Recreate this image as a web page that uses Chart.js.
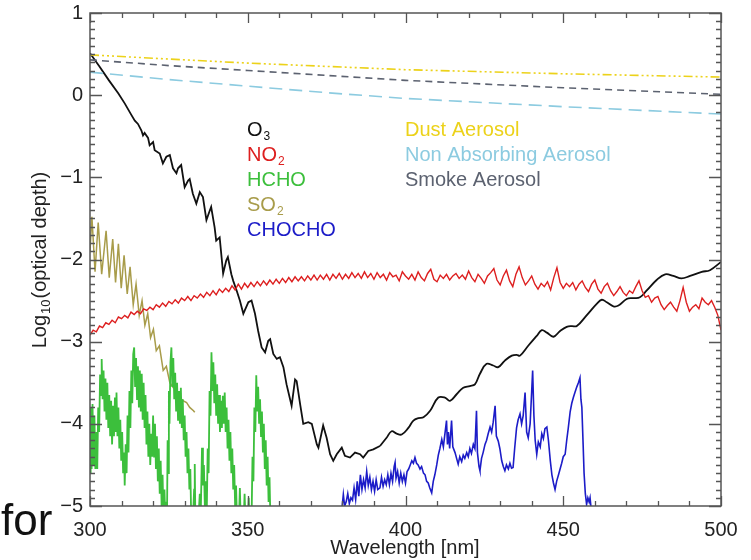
<!DOCTYPE html>
<html>
<head>
<meta charset="utf-8">
<script src="https://cdn.jsdelivr.net/npm/chart.js@4.4.1/dist/chart.umd.min.js"></script>
<style>
  html, body { margin: 0; padding: 0; background: #fff; }
  #wrap { width: 751px; height: 560px; }
</style>
</head>
<body>
<div id="wrap"><canvas id="chart" width="751" height="560"></canvas></div>
<script>
// tick labels
const xTicks = [300, 350, 400, 450, 500];
const yTicks = [1, 0, -1, -2, -3, -4, -5];

// legend labels [main, subscript]
const gasLabels = [['O', '3'], ['NO', '2'], ['HCHO', ''], ['SO', '2'], ['CHOCHO', '']];
const aerosolLabels = ['Dust Aerosol', 'Non Absorbing Aerosol', 'Smoke Aerosol'];

// series: [wavelength nm, log10 optical depth]
const dust = [[300, 0.49], [325, 0.44], [350, 0.39], [375, 0.35], [400, 0.31], [450, 0.26], [500, 0.22]];
const nonAbsorbing = [[300, 0.28], [325, 0.19], [350, 0.11], [375, 0.03], [400, -0.04], [450, -0.14], [500, -0.23]];
const smoke = [[300, 0.43], [325, 0.36], [350, 0.30], [375, 0.24], [400, 0.18], [450, 0.09], [500, 0.01]];

const o3 = [[300, 0.51], [303, 0.35], [306, 0.18], [309, 0.02], [311, -0.10], [313.1, -0.24], [314.2, -0.31],
  [315.2, -0.35], [316.3, -0.43], [316.8, -0.49], [317.3, -0.46], [318.4, -0.52], [318.9, -0.61], [320.0, -0.57],
  [320.5, -0.67], [322.1, -0.71], [323.1, -0.83], [324.2, -0.75], [325.3, -0.73], [326.3, -0.89], [327.4, -0.95],
  [327.9, -0.89], [328.9, -0.85], [330.0, -1.12], [331.1, -1.04], [331.6, -1.02], [332.6, -1.20], [333.7, -1.32],
  [334.8, -1.18], [335.8, -1.24], [336.9, -1.52], [338.0, -1.40], [338.4, -1.36], [339.5, -1.61], [340.0, -1.77],
  [341.1, -1.73], [342.2, -2.17], [343.2, -2.01], [343.7, -1.97], [344.8, -2.18], [345.4, -2.26], [346.5, -2.38],
  [347.5, -2.50], [348.6, -2.66], [350.2, -2.52], [351.2, -2.50], [352.3, -2.66], [353.3, -2.87], [354.4, -3.07],
  [355.5, -3.13], [356.5, -2.99], [357.1, -2.97], [358.1, -3.15], [359.2, -3.21], [360.2, -3.19], [361.3, -3.31],
  [362.3, -3.52], [363.9, -3.78], [365.0, -3.46], [365.5, -3.48], [366.6, -3.76], [367.6, -4.00], [369.2, -3.98],
  [370.3, -4.00], [371.9, -4.25], [372.4, -4.29], [373.9, -4.02], [375.0, -4.17], [376.1, -4.37], [377.1, -4.45],
  [378.2, -4.37], [379.8, -4.29], [380.8, -4.39], [382.4, -4.41], [384.0, -4.35], [385.6, -4.37], [386.6, -4.41],
  [388.2, -4.33], [389.8, -4.31], [391.9, -4.27], [394.0, -4.17], [395.6, -4.09], [397.2, -4.12], [398.8, -4.13],
  [400.9, -4.05], [402.5, -3.96], [404.1, -3.93], [405.7, -3.92], [407.8, -3.84], [410.4, -3.68], [412.5, -3.68],
  [414.1, -3.72], [416.2, -3.64], [418.3, -3.56], [420.4, -3.54], [422.0, -3.52], [423.6, -3.39], [425.7, -3.27],
  [427.8, -3.29], [429.4, -3.31], [431.5, -3.23], [433.7, -3.17], [435.2, -3.16], [436.3, -3.17], [438.9, -3.05],
  [441.6, -2.93], [443.2, -2.86], [444.8, -2.89], [446.9, -2.94], [449.0, -2.87], [451.1, -2.82], [452.7, -2.81],
  [454.3, -2.81], [457.4, -2.68], [460.6, -2.54], [462.2, -2.49], [463.8, -2.52], [465.9, -2.57], [467.5, -2.56],
  [470.1, -2.48], [472.2, -2.47], [474.3, -2.46], [476.4, -2.38], [479.6, -2.25], [482.3, -2.18], [484.9, -2.20],
  [487.5, -2.23], [490.2, -2.20], [493.9, -2.15], [496.5, -2.13], [500, -2.03]];

const no2 = [[300, -2.92], [301, -2.86], [302, -2.88], [303, -2.81], [304, -2.83], [305, -2.77], [306, -2.79],
  [307, -2.74], [308, -2.77], [309, -2.70], [310, -2.72], [311, -2.68], [312, -2.71], [313, -2.64], [314, -2.67],
  [315, -2.63], [316, -2.66], [317, -2.60], [318, -2.62], [319, -2.58], [320, -2.61], [321, -2.55], [322, -2.58],
  [323, -2.53], [324, -2.57], [325, -2.51], [326, -2.54], [327, -2.49], [328, -2.53], [329, -2.47], [330, -2.50],
  [331, -2.45], [332, -2.50], [333, -2.44], [334, -2.47], [335, -2.42], [336, -2.46], [337, -2.40], [338, -2.44],
  [339, -2.38], [340, -2.43], [341, -2.36], [342, -2.40], [343, -2.35], [344, -2.39], [345, -2.32], [346, -2.37],
  [347, -2.30], [348, -2.36], [349, -2.29], [350, -2.34], [351, -2.28], [352, -2.33], [353, -2.27], [354, -2.32],
  [355, -2.26], [356, -2.31], [357, -2.25], [358, -2.30], [359, -2.24], [360, -2.29], [361, -2.23], [362, -2.28],
  [363, -2.22], [364, -2.27], [365, -2.21], [366, -2.26], [367, -2.21], [368, -2.26], [369, -2.20], [370, -2.25],
  [371, -2.19], [372, -2.25], [373, -2.19], [374, -2.24], [375, -2.18], [376, -2.25], [377, -2.18], [378, -2.23],
  [379, -2.17], [380, -2.24], [381, -2.18], [382, -2.23], [383, -2.16], [384, -2.22], [385, -2.17], [386, -2.23],
  [387, -2.15], [388, -2.22], [389, -2.17], [390, -2.24], [391, -2.16], [392, -2.22], [393, -2.18], [394, -2.25],
  [395, -2.16], [396, -2.21], [397, -2.19], [398, -2.26], [399, -2.15], [400, -2.20], [401, -2.24], [402, -2.18],
  [403, -2.25], [404, -2.15], [405, -2.22], [406, -2.26], [407, -2.17], [408, -2.12], [409, -2.24], [410, -2.27],
  [411, -2.19], [412, -2.23], [413, -2.18], [414, -2.25], [415, -2.20], [416, -2.17], [417, -2.23], [418, -2.19],
  [419, -2.24], [420, -2.14], [421, -2.22], [422, -2.27], [423, -2.18], [424, -2.23], [425, -2.29], [426, -2.20],
  [427, -2.16], [428, -2.11], [429, -2.25], [430, -2.31], [431, -2.20], [432, -2.13], [433, -2.26], [434, -2.33],
  [435, -2.18], [436, -2.09], [437, -2.22], [438, -2.31], [439, -2.26], [440, -2.20], [441, -2.30], [442, -2.36],
  [443, -2.29], [444, -2.33], [445, -2.27], [446, -2.37], [447, -2.22], [448, -2.10], [449, -2.28], [450, -2.35],
  [451, -2.29], [452, -2.33], [453, -2.28], [454, -2.37], [455, -2.30], [456, -2.26], [457, -2.34], [458, -2.39],
  [459, -2.30], [460, -2.25], [461, -2.36], [462, -2.41], [463, -2.33], [464, -2.29], [465, -2.38], [466, -2.44],
  [467, -2.39], [468, -2.33], [469, -2.40], [470, -2.44], [471, -2.38], [472, -2.41], [473, -2.33], [474, -2.26],
  [475, -2.38], [476, -2.46], [477, -2.44], [478, -2.52], [479, -2.47], [480, -2.45], [481, -2.55], [482, -2.61],
  [483, -2.56], [484, -2.52], [485, -2.58], [486, -2.63], [487, -2.50], [488, -2.34], [489, -2.52], [490, -2.63],
  [491, -2.58], [492, -2.55], [493, -2.60], [494, -2.47], [495, -2.52], [496, -2.55], [497, -2.50], [498, -2.58],
  [499, -2.68], [500, -2.86]];

const so2 = [[300.0, -1.90], [300.6, -1.48], [301.6, -2.15], [302.6, -1.55], [303.7, -2.18], [305.1, -1.65],
  [306.1, -2.22], [307.2, -1.75], [308.1, -2.28], [309.0, -1.81], [309.9, -2.35], [310.8, -1.95], [311.8, -2.42],
  [312.7, -2.09], [313.7, -2.55], [314.6, -2.30], [315.6, -2.68], [316.5, -2.50], [317.4, -2.80], [318.3, -2.66],
  [319.2, -2.95], [320.1, -2.85], [321.0, -3.11], [322.0, -3.05], [323.2, -3.35], [324.2, -3.30], [325.3, -3.50],
  [326.4, -3.56], [327.4, -3.58], [328.4, -3.68], [329.6, -3.72], [330.6, -3.74], [331.6, -3.80], [332.8, -3.84],
  [333.2, -3.86]];

const hcho = [[300.0, -4.60], [300.2, -3.80], [300.5, -4.55], [300.8, -3.76], [301.1, -4.50], [301.4, -3.90],
  [301.7, -4.55], [302.0, -4.10], [302.3, -4.55], [302.6, -3.80], [302.9, -4.10], [303.2, -3.40], [303.5, -3.65],
  [303.7, -3.21], [304.0, -3.70], [304.3, -3.35], [304.6, -3.85], [304.9, -3.45], [305.2, -3.95], [305.5, -3.50],
  [305.8, -4.05], [306.1, -3.65], [306.4, -4.15], [306.7, -3.72], [307.0, -4.25], [307.3, -3.78], [307.6, -4.15],
  [307.9, -3.68], [308.2, -4.10], [308.4, -3.62], [308.7, -4.15], [309.0, -3.80], [309.3, -4.30], [309.6, -3.95],
  [309.9, -4.45], [310.2, -4.10], [310.5, -4.60], [310.8, -4.35], [311.0, -4.75], [311.3, -4.25], [311.6, -4.60],
  [311.9, -3.90], [312.2, -4.35], [312.5, -3.60], [312.8, -4.05], [313.1, -3.35], [313.4, -3.75], [313.7, -3.15],
  [314.0, -3.07], [314.3, -3.55], [314.6, -3.20], [314.9, -3.70], [315.2, -3.30], [315.5, -3.80], [315.8, -3.35],
  [316.1, -3.85], [316.4, -3.39], [316.7, -3.95], [317.0, -3.50], [317.3, -4.05], [317.6, -3.65], [317.9, -4.25],
  [318.2, -3.85], [318.5, -4.40], [318.8, -4.00], [319.1, -4.50], [319.4, -4.12], [319.7, -4.40], [320.0, -3.90],
  [320.3, -4.40], [320.6, -4.00], [320.9, -4.55], [321.2, -4.15], [321.5, -4.70], [321.8, -4.30], [322.1, -4.85],
  [322.4, -4.45], [322.7, -5.00], [323.0, -4.62], [323.3, -5.15], [323.6, -4.80], [323.9, -5.20], [324.2, -4.95],
  [324.4, -5.20], [324.6, -4.20], [324.8, -4.60], [325.0, -3.60], [325.2, -4.00], [325.5, -3.25], [325.8, -3.07],
  [326.1, -3.55], [326.4, -3.20], [326.7, -3.70], [327.0, -3.38], [327.3, -3.85], [327.6, -3.50], [327.9, -3.95],
  [328.2, -3.60], [328.5, -4.00], [328.8, -3.56], [329.1, -4.05], [329.4, -3.70], [329.7, -4.20], [330.0, -3.90],
  [330.3, -4.40], [330.6, -4.10], [330.9, -4.60], [331.2, -4.30], [331.5, -4.80], [331.8, -4.55], [332.1, -5.20],
  [332.6, -5.20], [333.0, -4.80], [333.2, -4.49], [333.4, -5.20], [334.3, -5.20], [334.8, -4.85], [335.1, -5.10],
  [335.5, -4.29], [335.8, -4.75], [336.1, -4.50], [336.4, -5.00], [336.7, -4.70], [337.0, -5.10], [337.3, -4.30],
  [337.6, -4.60], [337.9, -3.60], [338.2, -3.90], [338.5, -3.13], [338.8, -3.60], [339.1, -3.25], [339.4, -3.75],
  [339.7, -3.40], [340.0, -3.90], [340.3, -3.52], [340.6, -4.00], [340.9, -3.65], [341.2, -4.10], [341.5, -3.72],
  [341.8, -4.05], [342.1, -3.66], [342.4, -4.00], [342.7, -3.62], [343.0, -4.10], [343.3, -3.80], [343.6, -4.30],
  [343.9, -3.95], [344.2, -4.45], [344.5, -4.10], [344.8, -4.60], [345.1, -4.30], [345.4, -4.80], [345.7, -4.50],
  [346.0, -5.00], [346.3, -4.75], [346.6, -5.20], [347.2, -5.20], [347.5, -4.78], [347.8, -5.20], [348.7, -5.20],
  [349.0, -4.85], [349.3, -5.20], [350.0, -5.20], [350.3, -4.90], [350.6, -5.20], [351.2, -5.20], [351.5, -4.40],
  [351.8, -4.70], [352.1, -3.80], [352.4, -4.10], [352.7, -3.41], [353.0, -3.85], [353.3, -3.55], [353.6, -4.00],
  [353.9, -3.70], [354.2, -4.15], [354.5, -3.85], [354.8, -4.35], [355.1, -4.00], [355.4, -4.55], [355.7, -4.20],
  [356.0, -4.75], [356.3, -4.40], [356.6, -4.95], [356.9, -4.65], [357.2, -5.20]];

const chocho = [[379.8, -5.05], [380.3, -4.86], [380.7, -5.00], [381.2, -4.95], [381.7, -4.85], [382.2, -4.97],
  [382.7, -4.90], [383.2, -4.93], [383.7, -4.78], [384.2, -4.92], [384.7, -4.70], [385.2, -4.88], [385.7, -4.62],
  [386.2, -4.80], [386.7, -4.68], [387.2, -4.78], [387.7, -4.58], [388.2, -4.75], [388.7, -4.65], [389.2, -4.80],
  [389.7, -4.70], [390.2, -4.82], [390.7, -4.68], [391.2, -4.80], [391.9, -4.78], [392.4, -4.65], [392.9, -4.76],
  [393.4, -4.68], [393.9, -4.74], [394.4, -4.62], [394.9, -4.74], [395.4, -4.60], [395.9, -4.70], [396.4, -4.52],
  [396.7, -4.47], [397.0, -4.66], [397.5, -4.58], [398.0, -4.72], [398.5, -4.60], [399.0, -4.70], [399.5, -4.62],
  [400.0, -4.72], [400.5, -4.58], [401.0, -4.55], [401.5, -4.50], [402.0, -4.45], [402.5, -4.48], [403.0, -4.41],
  [403.5, -4.48], [404.0, -4.50], [404.6, -4.55], [405.1, -4.52], [405.7, -4.60], [406.2, -4.62], [406.7, -4.70],
  [407.2, -4.72], [407.7, -4.78], [408.3, -4.84], [408.8, -4.70], [409.3, -4.62], [409.9, -4.50], [410.4, -4.38],
  [410.9, -4.30], [411.5, -4.19], [412.0, -4.28], [412.5, -4.12], [413.0, -3.96], [413.3, -4.25], [413.6, -4.10],
  [414.0, -4.30], [414.6, -3.96], [415.0, -4.28], [415.7, -4.35], [416.2, -4.42], [416.7, -4.49], [417.2, -4.40],
  [417.8, -4.46], [418.3, -4.38], [418.8, -4.42], [419.4, -4.35], [419.9, -4.40], [420.4, -4.30], [420.9, -4.36],
  [421.5, -4.25], [422.0, -4.30], [422.5, -3.84], [422.8, -4.35], [423.3, -4.52], [423.6, -4.57], [424.1, -4.42],
  [424.6, -4.35], [425.2, -4.25], [425.7, -4.20], [426.2, -4.12], [426.8, -4.04], [427.3, -4.10], [427.8, -3.98],
  [428.4, -3.78], [428.8, -4.15], [429.4, -4.21], [429.9, -4.30], [430.5, -4.45], [431.0, -4.52], [431.5, -4.57],
  [432.0, -4.50], [432.6, -4.55], [433.1, -4.48], [433.6, -4.54], [434.1, -4.53], [434.6, -4.30], [435.2, -4.05],
  [435.7, -3.95], [436.3, -3.88], [436.8, -4.00], [437.3, -3.90], [437.9, -3.62], [438.4, -4.10], [438.9, -4.17],
  [439.5, -4.00], [440.0, -3.60], [440.3, -3.35], [440.7, -3.90], [441.1, -4.20], [441.6, -4.37], [442.1, -4.22],
  [442.7, -4.28], [443.2, -4.12], [443.7, -4.18], [444.2, -4.06], [444.8, -4.04], [445.3, -4.20], [445.9, -4.45],
  [446.4, -4.62], [446.9, -4.72], [447.4, -4.80], [447.9, -4.70], [448.5, -4.62], [449.0, -4.55], [449.5, -4.48],
  [450.0, -4.40], [450.6, -4.37], [451.1, -4.20], [451.6, -4.05], [452.2, -3.85], [452.7, -3.75], [453.2, -3.68],
  [453.7, -3.62], [454.3, -3.55], [454.8, -3.50], [455.3, -3.44], [455.6, -3.70], [455.9, -3.80], [456.3, -4.25],
  [456.6, -4.60], [457.0, -4.85], [457.4, -4.98], [457.8, -4.90], [458.2, -4.95], [458.5, -4.90], [459.0, -5.10],
  [459.5, -5.20]];

const FONT = '"Liberation Sans", Arial, sans-serif';
const colors = {
  o3: '#111111', no2: '#dd1f1f', hcho: '#3cbf3c', so2: '#a89c4a', chocho: '#1c1cc8',
  dust: '#ecd21a', nonAbs: '#8ccbe0', smoke: '#5c6270'
};

function series(label, pts, color, width, dash, tension) {
  return {
    label: label,
    data: pts.map(p => ({ x: p[0], y: p[1] })),
    borderColor: color,
    borderWidth: width,
    borderDash: dash || [],
    pointRadius: 0,
    tension: tension || 0,
    fill: false
  };
}

function drawSub(ctx, x, y, main, sub, size) {
  ctx.font = size + 'px ' + FONT;
  ctx.fillText(main, x, y);
  if (sub) {
    const w = ctx.measureText(main).width;
    ctx.font = Math.round(size * 0.62) + 'px ' + FONT;
    ctx.fillText(sub, x + w + 1, y + 4);
  }
}

// frame, inward ticks, text labels
const overlay = {
  id: 'overlay',
  afterDraw(chart) {
    const ctx = chart.ctx;
    const a = chart.chartArea;
    const xs = chart.scales.x, ys = chart.scales.y;
    ctx.save();
    ctx.strokeStyle = '#555';
    ctx.lineWidth = 1.3;
    ctx.beginPath();
    for (let w = 300; w <= 500; w += 10) {
      const px = Math.round(xs.getPixelForValue(w)) + 0.5;
      const len = w % 50 === 0 ? 10 : 5;
      ctx.moveTo(px, a.bottom); ctx.lineTo(px, a.bottom - len);
      ctx.moveTo(px, a.top); ctx.lineTo(px, a.top + len);
    }
    for (let k = -50; k <= 10; k++) {
      const py = Math.round(ys.getPixelForValue(k / 10)) + 0.5;
      const len = k % 10 === 0 ? 12 : 5;
      ctx.moveTo(a.left, py); ctx.lineTo(a.left + len, py);
      ctx.moveTo(a.right, py); ctx.lineTo(a.right - len, py);
    }
    ctx.stroke();
    ctx.lineWidth = 1.5;
    ctx.strokeRect(a.left, a.top, a.right - a.left, a.bottom - a.top);

    // gas legend
    const gasColors = [colors.o3, colors.no2, colors.hcho, colors.so2, colors.chocho];
    ctx.textBaseline = 'alphabetic';
    ctx.textAlign = 'left';
    gasLabels.forEach((g, i) => {
      ctx.fillStyle = gasColors[i];
      drawSub(ctx, 247, 136 + i * 25, g[0], g[1], 20);
    });
    const aeroColors = [colors.dust, colors.nonAbs, colors.smoke];
    aerosolLabels.forEach((t, i) => {
      ctx.fillStyle = aeroColors[i];
      ctx.font = '20px ' + FONT;
      ctx.fillText(t, 405, 136 + i * 25);
    });

    // axis titles
    ctx.fillStyle = '#222';
    ctx.font = '20px ' + FONT;
    ctx.textAlign = 'center';
    ctx.fillText('Wavelength [nm]', 405, 554);

    ctx.save();
    ctx.translate(46, 260);
    ctx.rotate(-Math.PI / 2);
    ctx.textAlign = 'left';
    ctx.font = '20px ' + FONT;
    const w1 = ctx.measureText('Log').width;
    const w3 = ctx.measureText('(optical depth)').width;
    ctx.font = '13px ' + FONT;
    const w2 = ctx.measureText('10').width;
    let x0 = -(w1 + w2 + w3 + 2) / 2;
    ctx.font = '20px ' + FONT;
    ctx.fillText('Log', x0, 0);
    ctx.font = '13px ' + FONT;
    ctx.fillText('10', x0 + w1 + 1, 4);
    ctx.font = '20px ' + FONT;
    ctx.fillText('(optical depth)', x0 + w1 + w2 + 2, 0);
    ctx.restore();

    // stray caption text
    ctx.fillStyle = '#111';
    ctx.font = '44px ' + FONT;
    ctx.textAlign = 'left';
    ctx.fillText('for', 1, 535);
    ctx.restore();
  }
};

// O3: jagged Huggins band part and smooth long-wave part share one array
const o3Split = 391.9;
const o3Jagged = o3.filter(p => p[0] <= o3Split);
const o3Smooth = o3.filter(p => p[0] >= o3Split);

const ctxEl = document.getElementById('chart');
new Chart(ctxEl.getContext('2d'), {
  type: 'line',
  data: {
    datasets: [
      series('Dust Aerosol', dust, colors.dust, 1.6, [9, 3, 2, 3, 2, 3, 2, 3]),
      series('Non Absorbing Aerosol', nonAbsorbing, colors.nonAbs, 1.6, [13, 7]),
      series('Smoke Aerosol', smoke, colors.smoke, 1.6, [7, 5]),
      series('NO2', no2, colors.no2, 1.4),
      series('HCHO', hcho, colors.hcho, 1.8),
      series('SO2', so2, colors.so2, 1.5),
      series('CHOCHO', chocho, colors.chocho, 1.6),
      series('O3', o3Jagged, colors.o3, 1.8),
      series('O3 long', o3Smooth, colors.o3, 1.8, null, 0.4)
    ]
  },
  options: {
    responsive: false,
    animation: false,
    events: [],
    layout: { padding: { left: 0, top: 13, right: 30, bottom: 0 } },
    plugins: { legend: { display: false }, tooltip: { enabled: false } },
    scales: {
      x: {
        type: 'linear', min: 300, max: 500,
        afterBuildTicks: s => { s.ticks = xTicks.map(v => ({ value: v })); },
        afterFit: s => { s.height = 54; s.paddingLeft = 0; s.paddingRight = 0; },
        grid: { display: false, drawTicks: false },
        border: { display: false },
        ticks: { padding: 12, color: '#222', autoSkip: false, maxRotation: 0, font: { family: FONT, size: 20 } }
      },
      y: {
        type: 'linear', min: -5, max: 1,
        afterBuildTicks: s => { s.ticks = yTicks.map(v => ({ value: v })); },
        afterFit: s => { s.width = 90; s.paddingTop = 0; s.paddingBottom = 0; },
        grid: { display: false, drawTicks: false },
        border: { display: false },
        ticks: {
          padding: 7, color: '#222', font: { family: FONT, size: 20 },
          callback: v => (v < 0 ? '\u2212' + Math.abs(v) : String(v))
        }
      }
    }
  },
  plugins: [overlay]
});
</script>
</body>
</html>
